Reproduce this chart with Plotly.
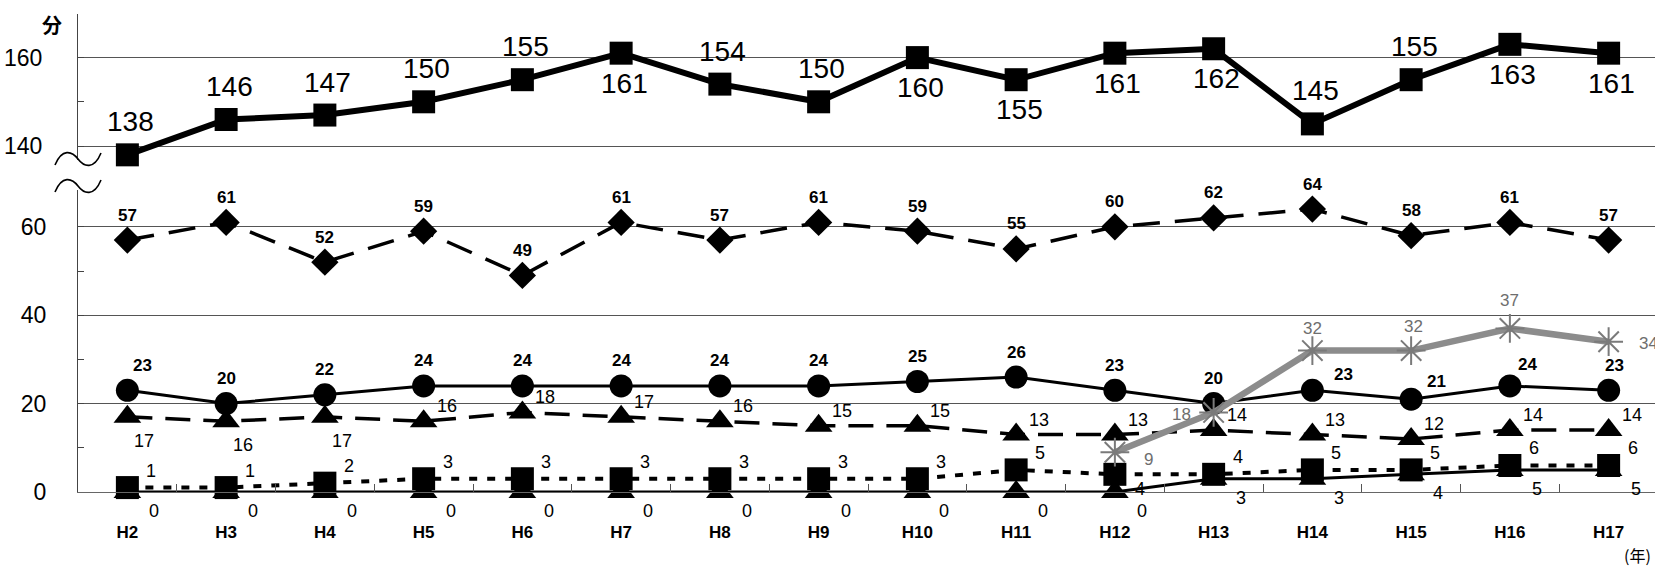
import plotly.graph_objects as go

# ---------------- data ----------------
years = ["H2", "H3", "H4", "H5", "H6", "H7", "H8", "H9", "H10",
         "H11", "H12", "H13", "H14", "H15", "H16", "H17"]
total = [138, 146, 147, 150, 155, 161, 154, 150, 160, 155, 161, 162, 145, 155, 163, 161]
diamond_vals = [57, 61, 52, 59, 49, 61, 57, 61, 59, 55, 60, 62, 64, 58, 61, 57]
circle_vals = [23, 20, 22, 24, 24, 24, 24, 24, 25, 26, 23, 20, 23, 21, 24, 23]
tri_dash_vals = [17, 16, 17, 16, 18, 17, 16, 15, 15, 13, 13, 14, 13, 12, 14, 14]
square_small_vals = [1, 1, 2, 3, 3, 3, 3, 3, 3, 5, 4, 4, 5, 5, 6, 6]
tri_solid_vals = [0, 0, 0, 0, 0, 0, 0, 0, 0, 0, 0, 3, 3, 4, 5, 5]
gray_years = ["H12", "H13", "H14", "H15", "H16", "H17"]
gray_vals = [9, 18, 32, 32, 37, 34]

bottom_ticks = [0, 20, 40, 60]
bottom_minor = [10, 30, 50]
top_ticks = [140, 160]
top_minor = [150, 170]

# ---------------- geometry (page pixels; body margin removed below) ----------------
W, H = 1658, 566
ML, MR, MT, MB = 78, 0, 14, 566 - 492
PW, PH = W - ML - MR, H - MT - MB
PXU = 4.42  # pixels per unit on both panels


def px(x):
    return (x - ML) / PW


def py(y):
    return (H - MB - y) / PH


# ---------------- label offsets (style, pixels: dx right, dy down) ----------------
n = len(years)
total_below = {"H7", "H10", "H11", "H12", "H13", "H16", "H17"}
total_off = [(3, 30) if y in total_below else (3, -33) for y in years]
diamond_off = [(0, -25)] * n
circle_off = [(15, -25)] + [(0, -25)] * 11 + [(31, -16), (25, -18), (18, -21), (6, -25)]
tri_dash_off = [(17, 24)] * 3 + [(23, -15)] * 13
square_off = [(24, -17)] * 10 + [(25, 15)] + [(24, -17)] * 5
tri_solid_off = [(27, 19)] * n
gray_off = [(34, 7), (-32, 2), (0, -22), (2, -24), (0, -28), (40, 2)]

SANS = "Liberation Sans, Arial, sans-serif"
CJK = "Noto Sans CJK JP"

fig = go.Figure()
annotations = []


def add_series(xs, vals, yaxis, line, marker, offsets, font):
    fig.add_trace(go.Scatter(x=xs, y=vals, yaxis=yaxis, mode="lines+markers",
                             line=line, marker=marker, cliponaxis=False,
                             showlegend=False, hoverinfo="x+y"))
    yref = "y2" if yaxis == "y2" else "y"
    for xv, v, (dx, dy) in zip(xs, vals, offsets):
        annotations.append(dict(x=xv, y=v, xref="x", yref=yref, text=str(v),
                                showarrow=False, xshift=dx, yshift=-dy,
                                xanchor="center", yanchor="middle", font=font))


add_series(years, total, "y2",
           dict(color="black", width=6),
           dict(symbol="square", size=23, color="black"),
           total_off, dict(family=SANS, size=28, color="black"))

add_series(years, diamond_vals, "y",
           dict(color="black", width=3.5, dash="27px,15px"),
           dict(symbol="diamond", size=21, color="black"),
           diamond_off, dict(family=SANS, size=17, color="black", weight="bold"))

add_series(years, square_small_vals, "y",
           dict(color="black", width=4, dash="8px,10px"),
           dict(symbol="square", size=23, color="black"),
           square_off, dict(family=SANS, size=18, color="black"))

add_series(years, tri_solid_vals, "y",
           dict(color="black", width=3),
           dict(symbol="triangle-up", size=24, color="black"),
           tri_solid_off, dict(family=SANS, size=18, color="black"))

add_series(years, tri_dash_vals, "y",
           dict(color="black", width=3.5, dash="25px,13px"),
           dict(symbol="triangle-up", size=24, color="black"),
           tri_dash_off, dict(family=SANS, size=18, color="black"))

add_series(years, circle_vals, "y",
           dict(color="black", width=3),
           dict(symbol="circle", size=23, color="black"),
           circle_off, dict(family=SANS, size=17, color="black", weight="bold"))

add_series(gray_years, gray_vals, "y",
           dict(color="#8c8c8c", width=6.5),
           dict(symbol="asterisk-open", size=24, color="#7a7a7a",
                line=dict(color="#7a7a7a", width=2)),
           gray_off, dict(family=SANS, size=17, color="#6e6e6e"))

# break squiggles
shapes = []
for yc in (159, 186):
    pts = [(55, yc + 6), (62, yc - 11), (72, yc - 8), (78, yc),
           (84, yc + 8), (94, yc + 11), (101, yc - 6)]
    p = [(px(a), py(b)) for a, b in pts]
    path = "M {},{} C {},{} {},{} {},{} C {},{} {},{} {},{}".format(
        *[c for pt in p for c in pt])
    shapes.append(dict(type="path", xref="paper", yref="paper", path=path,
                       line=dict(color="black", width=1.6)))

annotations += [
    dict(text="分", x=px(52), y=py(24), xref="paper", yref="paper", showarrow=False,
         xanchor="center", yanchor="middle",
         font=dict(family=CJK, size=20, color="black", weight="bold")),
    dict(text="(年)", x=px(1637), y=py(555), xref="paper", yref="paper", showarrow=False,
         xanchor="center", yanchor="middle",
         font=dict(family=CJK, size=16, color="black")),
]

bottom_top_px = 190
top_bottom_px = 160
top_top_px = 14

fig.update_layout(
    width=W, height=H,
    margin=dict(l=ML, r=MR, t=MT, b=MB, pad=0),
    paper_bgcolor="white", plot_bgcolor="white",
    shapes=shapes, annotations=annotations,
    xaxis=dict(
        type="category", range=[-0.5, n - 0.5],
        showgrid=False, showline=True, linecolor="#666", linewidth=1.2,
        ticks="inside", tickson="boundaries", ticklen=8, tickcolor="#555",
        tickfont=dict(family=SANS, size=17, color="black", weight="bold"),
        ticklabelstandoff=24, anchor="y", zeroline=False),
    yaxis=dict(
        domain=[0, py(bottom_top_px)], range=[0, (492 - bottom_top_px) / PXU],
        tickvals=bottom_ticks, ticks="inside", ticklen=6, tickcolor="#444",
        showgrid=True, gridcolor="#555", gridwidth=1,
        showline=True, linecolor="#444", linewidth=1.2, zeroline=False,
        minor=dict(tickvals=bottom_minor, ticks="inside", ticklen=6,
                   tickcolor="#444", showgrid=False),
        tickfont=dict(family=SANS, size=23, color="black"),
        ticklabelstandoff=26),
    yaxis2=dict(
        domain=[py(top_bottom_px), 1],
        range=[140 - (top_bottom_px - 146) / PXU, 140 + (146 - top_top_px) / PXU],
        tickvals=top_ticks, ticks="inside", ticklen=6, tickcolor="#444",
        showgrid=True, gridcolor="#555", gridwidth=1,
        showline=True, linecolor="#444", linewidth=1.2, zeroline=False,
        minor=dict(tickvals=top_minor, ticks="inside", ticklen=6,
                   tickcolor="#444", showgrid=False),
        tickfont=dict(family=SANS, size=23, color="black"),
        ticklabelstandoff=30, anchor="x"),
)

fig.write_html("out.html",
               config={"displayModeBar": False},
               post_script="document.body.style.margin='0';"
                           "document.body.style.overflow='hidden';")
